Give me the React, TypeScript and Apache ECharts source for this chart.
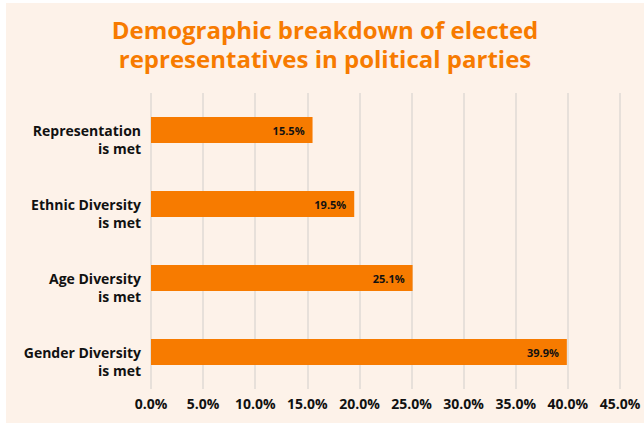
import React, { useEffect, useRef } from "react";
import * as echarts from "echarts";

const categories = [
  "Representation\nis met",
  "Ethnic Diversity\nis met",
  "Age Diversity\nis met",
  "Gender Diversity\nis met",
];
const values = [15.5, 19.5, 25.1, 39.9];
const titleText = "Demographic breakdown of elected\nrepresentatives in political parties";

const ORANGE = "#f77b00";
const FONT = "'Open Sans', Lato, sans-serif";

export default function App() {
  const ref = useRef<HTMLDivElement>(null);
  useEffect(() => {
    if (!ref.current) return;
    const chart = echarts.init(ref.current, undefined, { renderer: "svg" });
    chart.setOption({
      animation: false,
      backgroundColor: "#fdf2e9",
      title: {
        text: titleText,
        left: "center",
        top: 7,
        textStyle: {
          color: ORANGE,
          fontFamily: FONT,
          fontWeight: "bold",
          fontSize: 24,
          lineHeight: 29,
        },
      },
      grid: { left: 145, right: 24, top: 90, bottom: 34, containLabel: false },
      xAxis: {
        type: "value",
        min: 0,
        max: 45,
        interval: 5,
        axisLine: { show: false },
        axisTick: { show: false },
        splitLine: { show: true, lineStyle: { color: "#e7e0da", width: 2 } },
        axisLabel: {
          margin: 7,
          color: "#111",
          fontFamily: FONT,
          fontWeight: "bold",
          fontSize: 14,
          formatter: (v: number) => v.toFixed(1) + "%",
        },
      },
      yAxis: {
        type: "category",
        data: categories,
        inverse: true,
        axisLine: { show: false },
        axisTick: { show: false },
        splitLine: { show: false },
        axisLabel: {
          interval: 0,
          margin: 10,
          color: "#111",
          fontFamily: FONT,
          fontWeight: "bold",
          fontSize: 14,
          lineHeight: 18,
          align: "right",
          formatter: (v: string) => "\n" + v,
        },
      },
      series: [
        {
          type: "bar",
          data: values,
          barWidth: 26,
          itemStyle: { color: ORANGE },
          label: {
            show: true,
            position: "insideRight",
            distance: 8,
            color: "#111",
            fontFamily: FONT,
            fontWeight: "bold",
            fontSize: 11,
            formatter: (p: any) => p.value.toFixed(1) + "%",
          },
        },
      ],
    });
    return () => chart.dispose();
  }, []);
  return (
    <div style={{ position: "fixed", left: 0, top: 0, width: 644, height: 423, background: "#fff" }}>
      <div ref={ref} style={{ position: "absolute", left: 6, top: 3, width: 638, height: 420 }} />
    </div>
  );
}
